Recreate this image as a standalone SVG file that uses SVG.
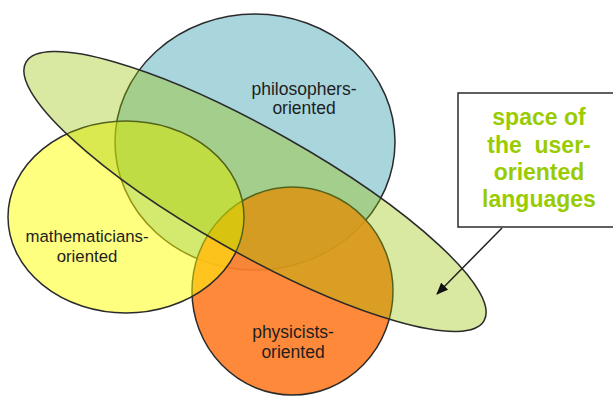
<svg xmlns="http://www.w3.org/2000/svg" width="613" height="398" viewBox="0 0 613 398">
<style>
.sh{stroke:#2b2b2b;stroke-width:1.5}
.lbl{font-family:"Liberation Sans",Arial,sans-serif;font-size:17.5px;fill:#1e1e1e;text-anchor:middle}
.box{font-family:"Liberation Sans",Arial,sans-serif;font-size:23px;font-weight:bold;fill:#99cc00;text-anchor:middle}
</style>
<defs>
<marker id="ah" markerWidth="12" markerHeight="10" refX="11" refY="5" orient="auto" markerUnits="userSpaceOnUse">
<path d="M0,0 L12,5 L0,10 Z" fill="#111"/>
</marker>
</defs>
<rect width="613" height="398" fill="#fff"/>
<g id="philosophers">
<ellipse class="sh" cx="255" cy="142" rx="140" ry="128" fill="#a9d5dd"/>
</g>
<g id="physicists">
<ellipse class="sh" cx="292.5" cy="291" rx="100.5" ry="104" fill="#ff7f2a" fill-opacity="0.92"/>
</g>
<g id="mathematicians">
<ellipse class="sh" cx="126" cy="217" rx="118" ry="96" fill="#ffff00" fill-opacity="0.5"/>
</g>
<g id="user-oriented">
<ellipse class="sh" cx="255" cy="191.5" rx="263" ry="62" transform="rotate(29.4 255 191.5)" fill="#9bc200" fill-opacity="0.37"/>
</g>
<g id="labels">
<text class="lbl" x="304" y="95">philosophers-</text>
<text class="lbl" x="304" y="114">oriented</text>
<text class="lbl" x="87" y="242" style="font-size:16.8px">mathematicians-</text>
<text class="lbl" x="87" y="262" style="font-size:16.8px">oriented</text>
<text class="lbl" x="293" y="338">physicists-</text>
<text class="lbl" x="293" y="358">oriented</text>
</g>
<g id="callout">
<rect x="458" y="93" width="170" height="134" fill="#fff" stroke="#2b2b2b" stroke-width="1.5"/>
<text class="box" x="539" y="125">space of</text>
<text class="box" x="539" y="153" xml:space="preserve">the  user-</text>
<text class="box" x="539" y="180">oriented</text>
<text class="box" x="539" y="207">languages</text>
</g>
<g id="connectors">
<line x1="502" y1="228" x2="437" y2="294" stroke="#222" stroke-width="1.5" marker-end="url(#ah)"/>
</g>
</svg>
